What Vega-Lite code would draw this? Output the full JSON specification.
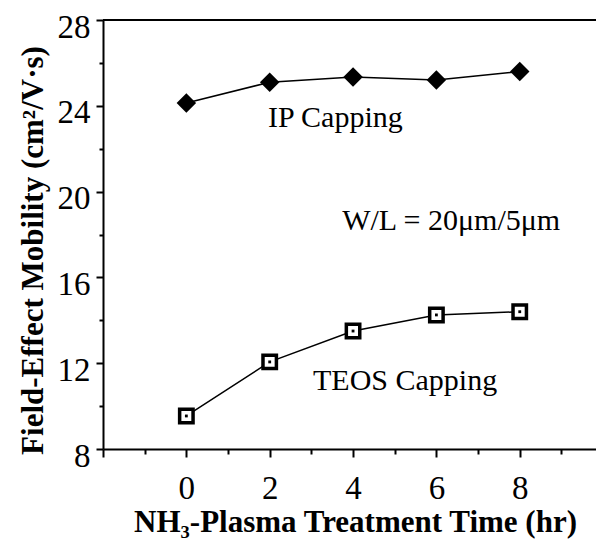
{
  "$schema": "https://vega.github.io/schema/vega-lite/v6.json",
  "autosize": "none",
  "width": 493,
  "height": 429,
  "padding": {"left": 103, "top": 20, "right": 0, "bottom": 92},
  "background": "white",
  "config": {
    "view": {"stroke": null},
    "font": "Liberation Serif",
    "axis": {"grid": false, "domainColor": "black", "domainWidth": 2, "tickColor": "black", "tickWidth": 2,
      "labelFont": "Liberation Serif", "labelColor": "black", "labelFontSize": 33,
      "titleFont": "Liberation Serif", "titleColor": "black", "titleFontSize": 31, "titleFontWeight": "bold"}
  },
  "datasets": {
    "pts": [
      {"series": "IP", "time": 0, "mobility": 24.13},
      {"series": "IP", "time": 2, "mobility": 25.1},
      {"series": "IP", "time": 4, "mobility": 25.34},
      {"series": "IP", "time": 6, "mobility": 25.2},
      {"series": "IP", "time": 8, "mobility": 25.6},
      {"series": "TEOS", "time": 0, "mobility": 9.54},
      {"series": "TEOS", "time": 2, "mobility": 12.06},
      {"series": "TEOS", "time": 4, "mobility": 13.5},
      {"series": "TEOS", "time": 6, "mobility": 14.25},
      {"series": "TEOS", "time": 8, "mobility": 14.4}
    ],
    "notes": [
      {"label": "IP Capping", "x": 1.96, "y": 23.01},
      {"label": "W/L = 20μm/5μm", "x": 3.74, "y": 18.21},
      {"label": "TEOS Capping", "x": 3.04, "y": 10.75}
    ],
    "frame": [{"x1": -2, "x2": 9.83, "y": 28}]
  },
  "layer": [
    {
      "data": {"name": "frame"},
      "mark": {"type": "rule", "color": "black", "strokeWidth": 2},
      "encoding": {
        "x": {"field": "x1", "type": "quantitative",
          "scale": {"domain": [-2, 9.83], "nice": false, "zero": false},
          "axis": {
            "title": "NH₃-Plasma Treatment Time (hr)",
            "values": [-2, -1, 0, 1, 2, 3, 4, 5, 6, 7, 8, 9],
            "labelExpr": "datum.value >= 0 && datum.value % 2 === 0 ? datum.label : ''",
            "tickSize": {"condition": {"test": "datum.value % 2 === 0", "value": 8}, "value": 5},
            "labelBaseline": "alphabetic",
            "labelPadding": 41,
            "labelFlush": false,
            "labelOverlap": false,
            "titleX": 252,
            "titleY": 82,
            "titleAlign": "center",
            "titleBaseline": "alphabetic",
            "titleAnchor": null
          }},
        "x2": {"field": "x2"},
        "y": {"field": "y", "type": "quantitative",
          "scale": {"domain": [8, 28], "nice": false, "zero": false},
          "axis": {
            "title": "Field-Effect Mobility (cm²/V·s)",
            "values": [8, 10, 12, 14, 16, 18, 20, 22, 24, 26, 28],
            "labelExpr": "datum.value % 4 === 0 ? datum.label : ''",
            "tickSize": {"condition": {"test": "datum.value % 4 === 0", "value": 7}, "value": 4},
            "labelBaseline": "alphabetic",
            "labelOffset": 17,
            "labelPadding": 6,
            "labelFlush": false,
            "labelOverlap": false,
            "titleAngle": 270,
            "titleX": -61,
            "titleY": 230,
            "titleAlign": "center",
            "titleBaseline": "alphabetic"
          }}
      }
    },
    {
      "data": {"name": "pts"},
      "mark": {"type": "line", "color": "black", "strokeWidth": 1.5},
      "encoding": {
        "x": {"field": "time", "type": "quantitative"},
        "y": {"field": "mobility", "type": "quantitative"},
        "detail": {"field": "series"}
      }
    },
    {
      "data": {"name": "pts"},
      "transform": [{"filter": "datum.series === 'IP'"}],
      "mark": {"type": "point", "shape": "diamond", "filled": true, "color": "black", "size": 380, "opacity": 1},
      "encoding": {
        "x": {"field": "time", "type": "quantitative"},
        "y": {"field": "mobility", "type": "quantitative"}
      }
    },
    {
      "data": {"name": "pts"},
      "transform": [{"filter": "datum.series === 'TEOS'"}],
      "mark": {"type": "point", "shape": "square", "filled": false, "fill": "white", "fillOpacity": 1, "stroke": "black", "strokeWidth": 3.5, "size": 180, "opacity": 1},
      "encoding": {
        "x": {"field": "time", "type": "quantitative"},
        "y": {"field": "mobility", "type": "quantitative"}
      }
    },
    {
      "data": {"name": "pts"},
      "transform": [{"filter": "datum.series === 'TEOS'"}],
      "mark": {"type": "point", "shape": "square", "filled": true, "color": "black", "size": 8, "opacity": 1},
      "encoding": {
        "x": {"field": "time", "type": "quantitative"},
        "y": {"field": "mobility", "type": "quantitative"}
      }
    },
    {
      "data": {"name": "notes"},
      "mark": {"type": "text", "align": "left", "baseline": "alphabetic", "font": "Liberation Serif", "fontSize": 30, "color": "black"},
      "encoding": {
        "x": {"field": "x", "type": "quantitative"},
        "y": {"field": "y", "type": "quantitative"},
        "text": {"field": "label"}
      }
    }
  ]
}
